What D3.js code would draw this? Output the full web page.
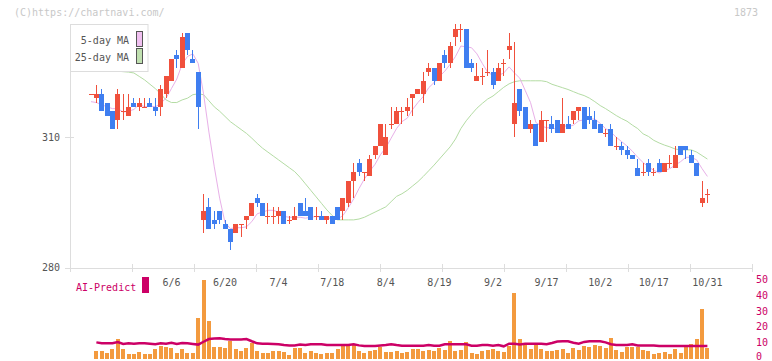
<!DOCTYPE html>
<html><head><meta charset="utf-8">
<script src="https://cdn.jsdelivr.net/npm/d3@7/dist/d3.min.js"></script>
<style>
body{margin:0;background:#fff}
svg{display:block}
text{font-family:"DejaVu Sans Mono",monospace;font-size:10px}
</style>
</head><body><svg id="c" width="772" height="361"></svg>
<script>
const dates=["5/16","5/19","5/20","5/21","5/22","5/23","5/26","5/27","5/28","5/29","5/30",
"6/2","6/3","6/4","6/5","6/6","6/9","6/10","6/11","6/12","6/13","6/16","6/17","6/18","6/19","6/20",
"6/23","6/24","6/25","6/26","6/27","6/30","7/1","7/2","7/3","7/4","7/7","7/8","7/9","7/10","7/11",
"7/14","7/15","7/16","7/17","7/18","7/22","7/23","7/24","7/25","7/28","7/29","7/30","7/31","8/1",
"8/4","8/5","8/6","8/7","8/8","8/12","8/13","8/14","8/15","8/18","8/19","8/20","8/21","8/22",
"8/25","8/26","8/27","8/28","8/29","9/1","9/2","9/3","9/4","9/5","9/8","9/9","9/10","9/11","9/12",
"9/16","9/17","9/18","9/19","9/22","9/24","9/25","9/26","9/29","9/30","10/1","10/2","10/3","10/6",
"10/7","10/8","10/9","10/10","10/14","10/15","10/16","10/17","10/20","10/21","10/22","10/23","10/24",
"10/27","10/28","10/29","10/30","10/31"];
const tickLabels=["6/6","6/20","7/4","7/18","8/4","8/19","9/2","9/17","10/2","10/17","10/31"];
const open=[320,319,320,318,316,314,316,315,318,317,317,318,317,317,320,323,329,326,334,328,325,
291,294,291,293,290,289,288,290,291,292,296,295,292,292,292,293,291,291,295,293,294,292,292,291,292,
294,293,295,300,304,302,301,306,308,306,313,313,316,316,319,320,320,325,326,323,329,327,333,335,
335,327,323,324,325,325,323,327,330,313,321,317,312,313,309,314,313,314,311,313,314,316,317,315,314,
313,311,312,308,308,307,306,303,302,304,302,304,302,304,303,308,308,306,304,295,297];
const high=[320,322,321,318,316,321,320,320,319,319,319,319,319,322,324,328,330,334,334,330,325,
297,296,293,293,291,289,290,290,292,295,297,295,295,294,294,293,292,294,295,296,294,294,293,292,292,
294,296,300,304,305,302,306,308,313,313,317,317,317,319,320,321,325,327,326,327,330,332,336,336,
335,328,327,326,330,326,327,328,334,332,321,317,314,313,316,314,315,314,319,315,316,317,317,317,316,
313,312,313,310,309,308,306,305,304,305,303,305,304,306,308,308,308,307,304,300,298];
const low=[320,318,316,315,312,312,314,315,317,316,317,317,315,315,319,323,326,326,329,327,312,
288,289,289,290,289,284,288,287,289,292,294,292,290,290,290,290,290,291,292,292,291,291,291,290,290,
291,291,294,296,301,300,301,305,308,306,312,313,313,315,315,320,318,324,322,323,326,326,331,332,
326,325,323,322,324,321,323,324,328,310,315,312,311,308,309,309,311,311,311,312,313,314,312,313,312,
311,310,308,307,306,305,305,301,301,301,301,302,302,303,303,306,305,304,301,294,295];
const close=[320,320,316,315,312,320,316,317,317,318,317,317,316,321,324,328,328,333,330,327,317,
293,289,290,291,289,286,290,290,292,295,295,292,292,292,293,290,291,292,292,292,291,292,291,292,290,
291,296,300,302,302,302,305,308,313,310,313,316,316,317,320,321,323,326,323,327,327,331,335,335,
326,326,324,324,325,322,326,327,331,318,316,312,313,308,314,314,312,311,313,312,316,317,312,314,312,
311,311,308,308,307,306,305,301,302,302,302,302,304,304,306,306,307,304,301,296,297];
const ma5=[318.2,318,317.5,317,316.6,316.6,315.8,316,316.4,317.6,317,317.2,317,317.8,319,321.2,323.4,
326.8,328.6,329.2,327,320,311.2,303.2,296,290.4,289,289.2,289.2,289.4,290.6,292.4,292.8,293.2,293.2,
292.8,291.8,291.6,291.6,291.6,291.4,291.6,291.8,291.6,291.6,291.2,291.2,292,293.8,295.8,298.2,300.4,
302.2,303.8,306,307.6,309.8,312,313.6,314.4,316.4,318,319.4,321.4,322.6,324,325.2,326.8,328.6,331,
330.8,330.6,329.2,327,325,324.2,324.2,324.8,326.2,324.8,323.6,320.8,318,313.4,312.6,312.2,312.2,
311.8,312.8,312.4,312.8,313.8,314,314.2,314.2,313.2,312,311.2,310,309,308,306.8,305.4,304.2,303.2,
302.4,301.8,302.4,302.8,303.6,304.4,305.4,305.4,304.8,302.8,301];
const ma25=[327.5,327,326.5,326,325.5,325.2,325.1,325,324.8,324,323.2,322.2,321.2,320,318.6,318,318,
318.6,319,319.8,320,319.8,318.4,317,316,314.8,313.6,312.7,311.8,310.9,309.8,308.6,307.5,306.6,305.7,
304.8,303.9,303,302.1,300.8,299.3,297.8,296.3,294.8,293.3,292,291,291,291,291,291.2,291.6,292.2,
292.8,293.4,294,295.2,296.4,297,297.8,298.8,299.8,301,302.3,303.6,305,306.4,307.8,309.6,312,313.8,
315.3,316.7,317.8,318.8,319.5,320.5,321.5,322.3,322.8,323,323,323,323,323,322.8,322.2,321.8,321.4,
321,320.5,320,319.6,319,318.2,317.3,316.6,315.8,315,314.3,313.7,312.8,312,310.8,310.2,309.3,308.7,
308.2,307.8,307.3,307.1,307.1,307.1,306.6,305.8,305];
const volume=[0,4.7,4.7,3.5,6,12.3,6,2.8,2.8,4,2.8,2.8,6,7.9,7.3,6.7,3.5,6,3.5,3.5,25.8,50,23.7,
7.3,7.3,6.7,11,6,4.7,6.7,9.8,4.7,3.5,3.5,4.7,4.7,4,2.2,6.7,6.7,3.5,4.7,3.5,2.8,3.5,3.5,6,7.9,8.5,
8.5,4.7,3.5,4.7,5.4,7,4.1,4.1,4.7,3.5,4.1,6,6,4.7,5.4,4.7,6.6,5.4,11.1,4.7,5.4,10.4,3.5,2.8,4.7,
5.4,6,4.7,4.1,7.9,41.5,12.3,8.5,6,8.5,6,4.7,4.7,5.4,6,3.5,6.6,5.4,7.9,7.3,8.5,7.9,6.6,13,5.4,4.1,
7.3,7.3,7.3,5.4,4.7,2.8,3.5,4.1,2.8,6,3.5,7.3,9.2,12.3,31.5,6.6];
const aiPredict=[null,10.2,9.6,9.6,9.6,10.4,9.2,9.6,9.4,9.6,9.6,9.4,9.0,9.6,9.4,10.0,9.2,9.8,9.6,9.2,
8.8,10.6,12.3,12.6,12.8,12.3,12.1,12.1,12.1,12.3,10.9,9.6,9.4,9.4,9.2,9.0,8.5,8.3,8.3,8.8,8.5,9.0,
9.0,9.0,8.5,8.5,8.5,8.5,8.5,9.0,8.3,7.9,7.9,7.9,8.3,8.5,9.0,8.5,8.1,8.1,8.1,8.1,8.1,8.5,8.1,8.1,
9.0,9.0,9.0,9.0,9.0,8.1,8.1,8.5,8.5,8.1,8.5,7.7,9.4,9.4,8.8,9.4,9.4,9.4,9.4,9.0,9.8,10.7,10.9,10.9,
10.0,9.4,10.5,10.9,10.9,10.9,10.2,9.0,8.5,8.5,8.5,9.0,8.3,8.3,8.3,8.3,7.9,7.9,7.9,7.9,7.9,7.9,7.9,
7.9,7.9,7.9];
const priceTicks=[310,280];
const volTicks=[0,10,20,30,40,50];

const svg=d3.select("#c");
svg.append("rect").attr("width",772).attr("height",361).attr("fill","#fff");
const idx=d3.range(dates.length);
const x=d3.scaleLinear().domain([-3.92,123.32]).range([70,752]);
const y=d3.scaleLinear().domain([280,310]).range([267.7,137.3]);
const yv=d3.scaleLinear().domain([0,50]).range([358.5,279.5]);
const gray="#555", axisC="#ddd";

// copyright / code
svg.append("text").attr("x",14).attr("y",15.5).attr("fill","#c8c8c8").text("(C)https://chartnavi.com/");
svg.append("text").attr("x",758).attr("y",15.5).attr("text-anchor","end").attr("fill","#c8c8c8").text("1873");

// axes
svg.append("line").attr("x1",70.5).attr("x2",70.5).attr("y1",24).attr("y2",268).attr("stroke",axisC).attr("stroke-width",1);
svg.append("line").attr("x1",65).attr("x2",752).attr("y1",268.5).attr("y2",268.5).attr("stroke",axisC);
d3.range(12).forEach(k=>{
  const px=Math.round(70+k*62)+0.5;
  svg.append("line").attr("x1",px).attr("x2",px).attr("y1",264).attr("y2",272).attr("stroke",axisC);
});
priceTicks.forEach(v=>{
  const py=Math.round(y(v))+0.5;
  svg.append("line").attr("x1",65).attr("x2",74).attr("y1",py).attr("y2",py).attr("stroke",axisC);
  svg.append("text").attr("x",60).attr("y",y(v)+3.5).attr("text-anchor","end").attr("fill",gray).text(v);
});
tickLabels.forEach(lbl=>{
  const i=dates.indexOf(lbl);
  svg.append("text").attr("x",x(i)).attr("y",285.5).attr("text-anchor","middle").attr("fill",gray).text(lbl);
});

// MAs
const line=arr=>d3.line().x((d,i)=>x(i)).y(d=>y(d))(arr);
svg.append("path").attr("d",line(ma25)).attr("fill","none").attr("stroke","#b4dca4").attr("stroke-width",1);
svg.append("path").attr("d",line(ma5)).attr("fill","none").attr("stroke","#e8b0e8").attr("stroke-width",1);

// candles
const up="#f0503c", down="#3f7ef0";
const cg=svg.append("g").attr("shape-rendering","crispEdges");
idx.forEach(i=>{
  const col=close[i]<open[i]?down:up;
  const cx=x(i);
  if(high[i]>low[i]) cg.append("rect").attr("x",cx-0.5).attr("width",1).attr("y",y(high[i])).attr("height",y(low[i])-y(high[i])).attr("fill",col);
  const top=y(Math.max(open[i],close[i])), bot=y(Math.min(open[i],close[i]));
  cg.append("rect").attr("x",cx-2.5).attr("width",5).attr("y",top).attr("height",Math.max(1,bot-top)).attr("fill",col);
});

// legend
svg.append("rect").attr("x",70.5).attr("y",24.5).attr("width",77.5).attr("height",47).attr("fill","#fff").attr("stroke","#ddd");
svg.append("text").attr("x",129).attr("y",43.5).attr("text-anchor","end").attr("fill",gray).text("5-day MA");
svg.append("text").attr("x",129).attr("y",60.5).attr("text-anchor","end").attr("fill",gray).text("25-day MA");
svg.append("rect").attr("x",136.5).attr("y",31.5).attr("width",6).attr("height",15).attr("fill","#f0c0f0").attr("stroke","#555");
svg.append("rect").attr("x",136.5).attr("y",48.5).attr("width",6).attr("height",15).attr("fill","#c0e0b0").attr("stroke","#555");

// volume panel
const vg=svg.append("g").attr("shape-rendering","crispEdges");
idx.forEach(i=>{
  if(!volume[i]) return;
  vg.append("rect").attr("x",x(i)-2).attr("width",4).attr("y",yv(volume[i])).attr("height",yv(0)-yv(volume[i])).attr("fill","#f39a3e");
});
const aiLine=d3.line().defined(d=>d!=null).x((d,i)=>x(i)).y(d=>yv(d));
svg.append("path").attr("d",aiLine(aiPredict)).attr("fill","none").attr("stroke","#cc0066").attr("stroke-width",2.5);
volTicks.forEach(v=>{
  svg.append("text").attr("x",756).attr("y",Math.min(yv(v)+3.5,359.5)).attr("fill","#cc0066").text(v);
});
svg.append("text").attr("x",76).attr("y",290.5).attr("fill","#cc0066").text("AI-Predict");
svg.append("rect").attr("x",142).attr("y",277).attr("width",7).attr("height",16).attr("fill","#cc0066");
</script>
</body></html>
